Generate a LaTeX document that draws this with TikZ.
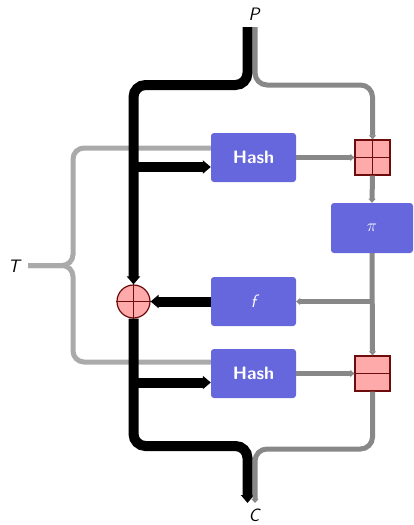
\documentclass[tikz,border=0pt]{standalone}
\usetikzlibrary{arrows.meta}
\definecolor{boxblue}{HTML}{6666DD}
\definecolor{xpink}{HTML}{FFAAAA}
\definecolor{xred}{HTML}{6E0B0B}
\definecolor{wiredark}{HTML}{888888}
\definecolor{wirelight}{HTML}{AAAAAA}
\begin{document}
\begin{tikzpicture}[x=1pt,y=-1pt,font=\sffamily\fontsize{18}{21}\selectfont,
  blk/.style={line width=10pt,black},
  gry/.style={line width=5pt,wiredark},
  gryl/.style={line width=5pt,wirelight},
  btip/.style={-{Triangle[width=13pt,length=8pt]}},
  gtip/.style={-{Triangle[width=7pt,length=4pt]}},
  fbox/.style={fill=boxblue,rounded corners=3pt,minimum width=85pt,minimum height=49pt,
    inner sep=0pt,text=white,font=\sffamily\bfseries\fontsize{18}{21}\selectfont},
  sqbox/.style={rectangle,fill=xpink,draw=xred,line width=1.2pt,minimum size=35pt,inner sep=0pt},
  xorc/.style={circle,fill=xpink,draw=xred,line width=1.2pt,minimum size=33pt,inner sep=0pt},
  xline/.style={xred,line width=1.2pt},
  lbl/.style={font=\sffamily\itshape\fontsize{18}{21}\selectfont,inner sep=0pt}]
\useasboundingbox (0,0) rectangle (413,525);

% labels
\node[lbl] (P) at (254,14) {P};
\node[lbl] (C) at (254,515) {C};
\node[lbl] (T) at (14,266) {T};

% function boxes
\node[fbox] (h1) at (253.5,157.5) {Hash};
\node[fbox,font=\sffamily\mdseries\itshape\fontsize{18}{21}\selectfont] (ff) at (253.5,301.5) {f};
\node[fbox] (h2) at (253.5,373.5) {Hash};
\node[fbox,minimum width=82pt,minimum height=50pt,font=\fontsize{18}{21}\selectfont] (pi) at (372,228) {$\pi$};

% combiners
\node[sqbox] (s1) at (372.5,157.5) {};
\draw[xline] (s1.north) -- (s1.south) (s1.west) -- (s1.east);
\node[sqbox] (s2) at (372.5,373.5) {};
\draw[xline] (s2.west) -- (s2.east);

% taps on the box sides
\coordinate (h1in) at ([yshift=9.5pt]h1.west);
\coordinate (h1bk) at ([yshift=-9.5pt]h1.west);
\coordinate (h2in) at ([yshift=11.5pt]h2.west);
\coordinate (h2bk) at ([yshift=-9pt]h2.west);
\coordinate (Tin) at (28,265.5);
\coordinate (Tmid) at (73,265.5);

% tweak brace
\draw[gryl,rounded corners=11pt] (Tin) -- (Tmid) -- (Tmid |- h1in) -- (h1in);
\draw[gryl,rounded corners=11pt] (Tin) -- (Tmid) -- (Tmid |- h2in) -- (h2in);

% xor node
\node[xorc] (xr) at (133.5,301.5) {};
\draw[xline] (xr.north) -- (xr.south) (xr.west) -- (xr.east);

% black data path
\draw[blk,btip,rounded corners=12pt] (247.5,27) -- (247.5,85) -- (xr |- 0,85) -- (xr.north);
\draw[blk,btip,rounded corners=12pt] (xr.south) -- (xr |- 0,446) -- (247.5,446) -- (247.5,503);
\draw[blk,btip] (xr |- h1bk) -- (h1bk);
\draw[blk,btip] (xr |- h2bk) -- (h2bk);
\draw[blk,btip] (ff.west) -- (xr.east);

% grey path
\draw[gry,gtip,rounded corners=12pt] (255,27) -- (255,85) -- (s1 |- 0,85) -- (s1.north);
\draw[gry,gtip] (h1.east) -- (s1.west);
\draw[gry,gtip] (s1.south) -- (pi.north);
\draw[gry,gtip] (pi.south) -- (s2.north);
\draw[gry,gtip] (pi.south |- ff.east) -- (ff.east);
\draw[gry,gtip] (h2.east) -- (s2.west);
\draw[gry,gtip,rounded corners=12pt] (s2.south) -- (s2 |- 0,449) -- (255,449) -- (255,503);
\end{tikzpicture}
\end{document}
